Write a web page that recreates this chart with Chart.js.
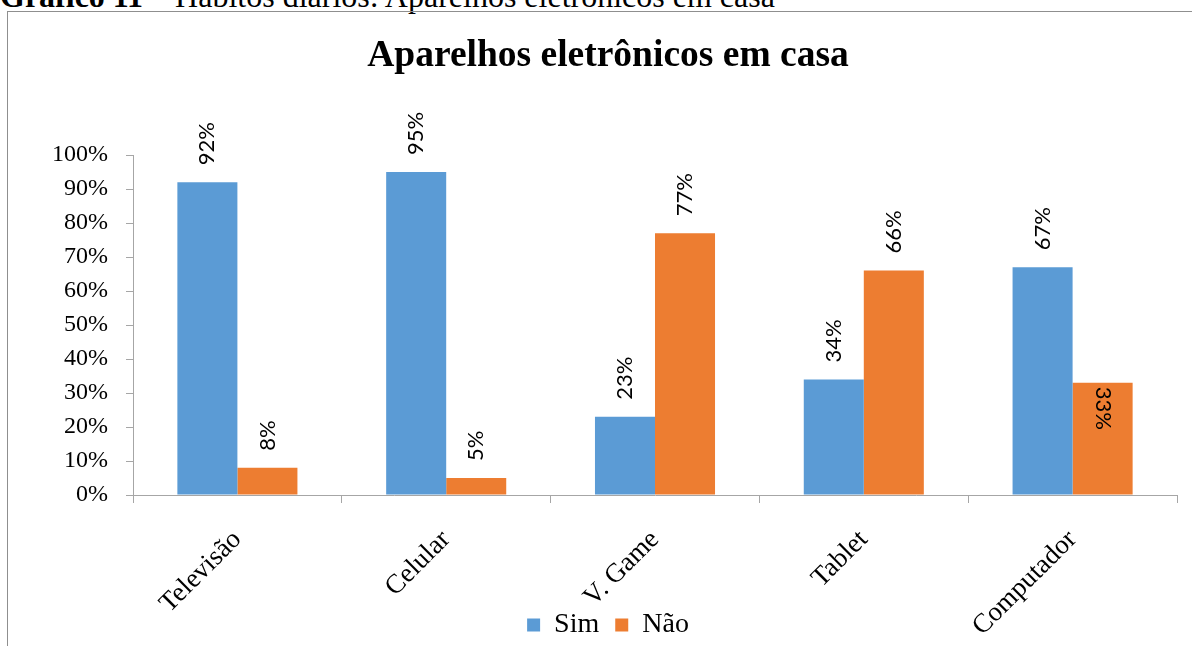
<!DOCTYPE html>
<html>
<head>
<meta charset="utf-8">
<script src="https://cdn.jsdelivr.net/npm/chart.js"></script>
<style>
  html, body { margin: 0; padding: 0; background: #fff; overflow: hidden; width: 1192px; height: 646px; }
  #legenda { position: absolute; left: 0; top: -20px; font-family: "Liberation Serif", serif; font-size: 32px; line-height: 32px; white-space: nowrap; color: #000; }
  #caixa { position: absolute; left: 7px; top: 11px; width: 1300px; height: 700px; border: 1px solid #8f8f8f; }
  #grafico { position: absolute; left: 8px; top: 12px; }
</style>
</head>
<body>
<div id="legenda"><b>Gráfico 11</b> – Hábitos diários: Aparelhos eletrônicos em casa</div>
<div id="caixa"></div>
<canvas id="grafico" width="1200" height="637"></canvas>
<script>
// dados do gráfico
const categorias = ['Televisão', 'Celular', 'V. Game', 'Tablet', 'Computador'];
const sim = [92, 95, 23, 34, 67];
const nao = [8, 5, 77, 66, 33];
const yTicks = [0, 10, 20, 30, 40, 50, 60, 70, 80, 90, 100];
// rótulo que fica dentro da barra: [dataset, índice]
const rotulosDentro = [[1, 4]];

const fonteSerif = 'Liberation Serif';

/* rótulos de dados girados */
const rotulosPlugin = {
  id: 'rotulos',
  afterLayout(chart) {
    // deixa os nomes girados do eixo x descerem até o fim do canvas
    chart.scales.x.bottom = chart.height;
  },
  afterDatasetsDraw(chart) {
    const ctx = chart.ctx;
    ctx.save();
    ctx.font = '22px Lato';
    ctx.fillStyle = '#000';
    ctx.textBaseline = 'middle';
    ctx.textAlign = 'left';
    chart.data.datasets.forEach((ds, di) => {
      const meta = chart.getDatasetMeta(di);
      meta.data.forEach((bar, i) => {
        const txt = ds.data[i] + '%';
        const dentro = rotulosDentro.some(r => r[0] === di && r[1] === i);
        ctx.save();
        if (dentro) {
          ctx.translate(bar.x, bar.y + 4);
          ctx.rotate(Math.PI / 2);
        } else {
          ctx.translate(bar.x, bar.y - 17);
          ctx.rotate(-Math.PI / 2);
        }
        ctx.fillText(txt, 0, 0);
        ctx.restore();
      });
    });
    ctx.restore();
  }
};

const grafico = document.getElementById('grafico');
new Chart(grafico, {
  type: 'bar',
  data: {
    labels: categorias,
    datasets: [
      { label: 'Sim', data: sim, backgroundColor: '#5B9BD5', categoryPercentage: 0.575, barPercentage: 1.0 },
      { label: 'Não', data: nao, backgroundColor: '#ED7D31', categoryPercentage: 0.575, barPercentage: 1.0 }
    ]
  },
  options: {
    responsive: false,
    animation: false,
    layout: { padding: 0 },
    plugins: {
      title: {
        display: true,
        text: 'Aparelhos eletrônicos em casa',
        color: '#000',
        font: { family: fonteSerif, size: 37.5, weight: 'bold' },
        padding: { top: 22, bottom: 76 }
      },
      legend: {
        position: 'bottom',
        labels: {
          color: '#000',
          font: { family: fonteSerif, size: 28 },
          boxWidth: 13,
          boxHeight: 13,
          padding: 16
        }
      },
      tooltip: { enabled: false }
    },
    scales: {
      x: {
        grid: { drawOnChartArea: false, tickLength: 8, color: '#a6a6a6', offset: true },
        border: { color: '#a6a6a6' },
        ticks: {
          color: '#000',
          font: { family: fonteSerif, size: 27 },
          minRotation: 45,
          maxRotation: 45,
          autoSkip: false,
          padding: 21
        },
        afterFit(s) { s.height = 100; }
      },
      y: {
        min: 0,
        max: 100,
        afterBuildTicks(s) { s.ticks = yTicks.map(v => ({ value: v })); },
        grid: { drawOnChartArea: false, tickLength: 7, color: '#a6a6a6' },
        border: { color: '#a6a6a6' },
        ticks: {
          color: '#000',
          font: { family: fonteSerif, size: 24 },
          padding: 18,
          callback: v => v + '%'
        },
        afterFit(s) { s.width = 125; }
      },
      direita: {
        type: 'linear',
        position: 'right',
        display: true,
        grid: { display: false },
        border: { display: false },
        ticks: { display: false },
        afterFit(s) { s.width = 31; }
      }
    }
  },
  plugins: [rotulosPlugin]
});
</script>
</body>
</html>
